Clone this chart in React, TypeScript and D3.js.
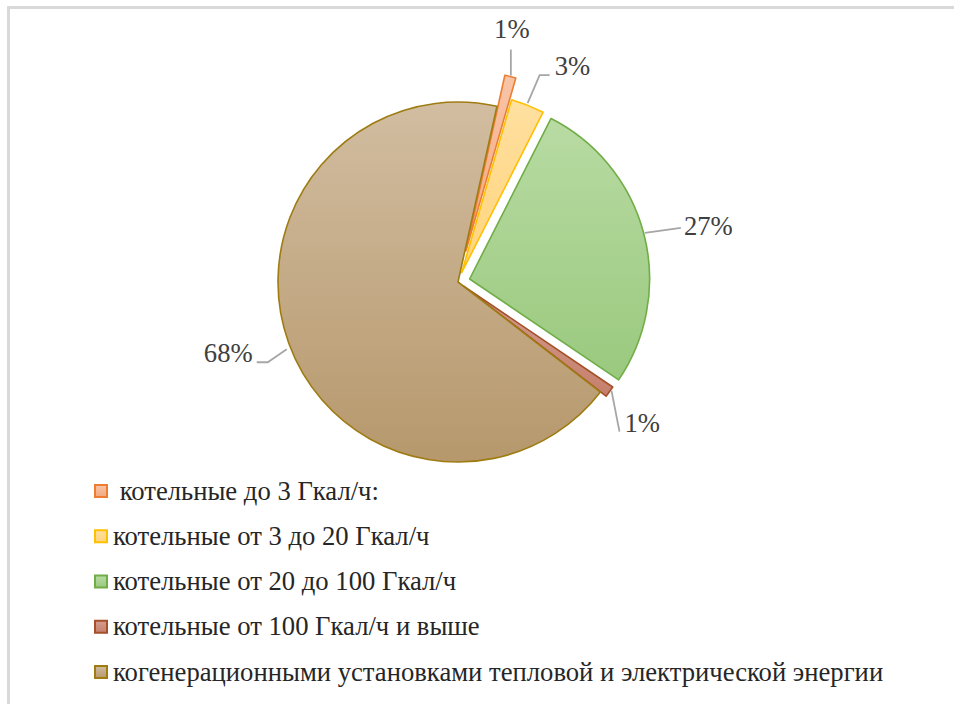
import React from 'react';
import * as d3 from 'd3';

const categories = [
  ' котельные до 3 Гкал/ч:',
  'котельные от 3 до 20 Гкал/ч',
  'котельные от 20 до 100 Гкал/ч',
  'котельные от 100 Гкал/ч и выше',
  'когенерационными установками тепловой и электрической энергии',
];
const shares = [1, 3, 27, 1, 68];
const shareLabels = ['1%', '3%', '27%', '1%', '68%'];

// styles
const fillTop = ['#f8c5a8', '#ffe0a0', '#b8dba3', '#d49d8f', '#d2bda1'];
const fillBottom = ['#f2a77c', '#ffd47c', '#9ac97e', '#c5806c', '#b6986c'];
const strokes = ['#ed7d31', '#ffc000', '#70ad47', '#a5502a', '#9e7c12'];
const explode = [32, 10, 12, 7, 0];
// leader line points relative to slice's outer midpoint, then label offset / anchor
const leaders: [number, number][][] = [
  [[0.5, -1], [0.5, -27]],
  [[0, -2], [12, -30], [22, -30]],
  [[1, -1], [37, -6]],
  [[2, -1], [10, 40]],
  [[-2, 6], [-21, 19], [-32, 19]],
];
const labelShift: [number, number, string][] = [
  [1, -12, 'middle'],
  [5, 0, 'start'],
  [3, 7, 'start'],
  [5, 0, 'start'],
  [-4, 0, 'end'],
];

const W = 954;
const H = 704;
const cx = 458;
const cy = 282;
const R = 180;
const startDeg = 12.5;

export default function App() {
  const pie = d3
    .pie<number>()
    .sort(null)
    .startAngle((startDeg * Math.PI) / 180)
    .endAngle((startDeg * Math.PI) / 180 + 2 * Math.PI)
    .value((d) => d);
  const arcs = pie(shares);
  const arc = d3.arc<d3.PieArcDatum<number>>().innerRadius(0).outerRadius(R);

  const legendY = d3
    .scalePoint<number>()
    .domain(categories.map((_, i) => i))
    .range([491, 672]);

  const anchors = arcs.map((a, i) => {
    const mid = (a.startAngle + a.endAngle) / 2;
    const rr = R + explode[i];
    const ax = cx + rr * Math.sin(mid);
    const ay = cy - rr * Math.cos(mid);
    return leaders[i].map(([x, y]) => [ax + x, ay + y] as [number, number]);
  });

  return (
    <svg width={W} height={H} style={{ position: 'absolute', left: 0, top: 0 }}>
      <defs>
        {fillTop.map((c, i) => (
          <linearGradient key={i} id={`g${i}`} x1="0" y1="0" x2="0" y2="1">
            <stop offset="0" stopColor={c} />
            <stop offset="1" stopColor={fillBottom[i]} />
          </linearGradient>
        ))}
      </defs>
      <rect x={8.5} y={7.5} width={1200} height={1200} fill="#fff" stroke="#d9d9d9" strokeWidth={3} />

      {arcs.map((a, i) => {
        const mid = (a.startAngle + a.endAngle) / 2;
        const dx = explode[i] * Math.sin(mid);
        const dy = -explode[i] * Math.cos(mid);
        return (
          <path
            key={'s' + i}
            d={arc(a) || ''}
            transform={`translate(${cx + dx},${cy + dy})`}
            fill={`url(#g${i})`}
            stroke={strokes[i]}
            strokeWidth={1.6}
            strokeLinejoin="round"
          />
        );
      })}

      {anchors.map((pts, i) => (
        <path key={'l' + i} d={d3.line()(pts) || ''} fill="none" stroke="#a6a6a6" strokeWidth={1.8} />
      ))}

      {anchors.map((pts, i) => {
        const last = pts[pts.length - 1];
        return (
          <text
            key={'t' + i}
            x={last[0] + labelShift[i][0]}
            y={last[1] + labelShift[i][1]}
            textAnchor={labelShift[i][2]}
            fontSize={26.67}
            fill="#404040"
            style={{ fontFamily: '"Liberation Serif"' }}
          >
            {shareLabels[i]}
          </text>
        );
      })}

      {categories.map((c, i) => (
        <rect
          key={'m' + i}
          x={95}
          y={(legendY(i) || 0) - 6}
          width={12}
          height={12}
          fill={`url(#g${i})`}
          stroke={strokes[i]}
          strokeWidth={2}
        />
      ))}
      {categories.map((c, i) => (
        <text
          key={'c' + i}
          x={113}
          y={(legendY(i) || 0) + 8.5}
          fontSize={26.67}
          fill="#262626"
          xmlSpace="preserve"
          style={{ fontFamily: '"Liberation Serif"' }}
        >
          {c}
        </text>
      ))}
    </svg>
  );
}
